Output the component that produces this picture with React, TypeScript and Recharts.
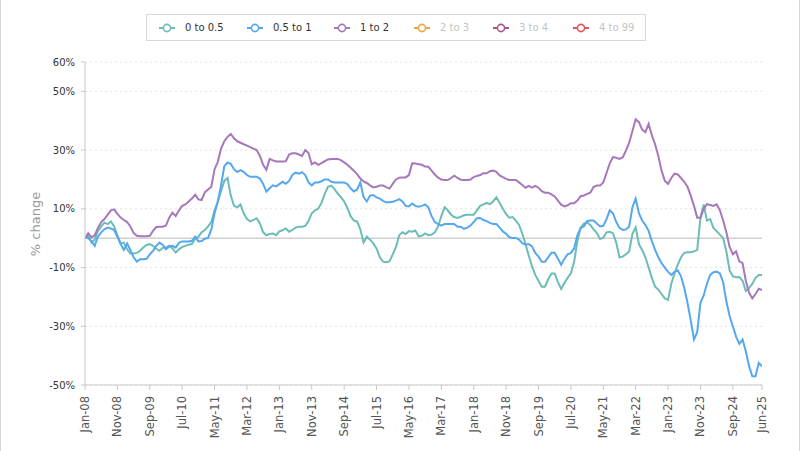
import React from 'react';
import { LineChart, Line, XAxis, YAxis, CartesianGrid, ReferenceLine } from 'recharts';

const seriesA: number[] = [
  0, 0.8, -1.5, -0.5, 2.5, 4, 5.3, 4.8, 5.7, 4, 1, -1.8, -1.5, -3.8, -5.2, -5.2, -5, -4.3, -3.2, -2.3, -2, -2.6, -3.6, -4.3, -3.3, -3.2, -2.6, -3.5, -4.9, -3.8, -3, -2.6, -2.2, -2, -0.2, 0.5,
  2, 2.8, 4, 5.5, 9.5, 12.5, 16, 19.5, 20.5, 14.5, 11, 10.5, 11.5, 8.5, 6.5, 5.7, 6.2, 6.8, 5, 2, 1, 1.4, 1.6, 1, 2.3, 2.7, 3.3, 2.2, 2.8, 3.6, 3.9, 3.9, 4.2, 5.8, 8.5,
  9.5, 10, 12, 15, 17.5, 17.9, 16.8, 15.2, 14, 12.5, 10.3, 7.5, 6, 5.7, 3, -1.5, 0.5, -0.5, -1.8, -3.5, -6.5, -8, -8.2, -7.9, -5.5, -3, 1, 2, 1.4, 2.4, 2.2, 2.6, 0.6, 0.8, 1.6,
  1, 1.2, 2, 4, 7.5, 10.5, 9.5, 8, 7.2, 6.9, 7.3, 7.8, 8, 8, 8, 9.5, 11, 11.5, 12, 11.6, 12.5, 13.9, 12, 10, 8.2, 7, 7.2, 6, 4.5, 1.5, -2, -6, -9.5, -12.5, -14.5,
  -16.5, -16.5, -14, -12, -12, -15, -17.3, -15.3, -13.5, -12, -8, -1, 3.5, 5, 5.4, 4.5, 3, 1.8, -0.3, 0.2, 2, 2.2, 1.6, -1.5, -6.5, -6.3, -5.5, -4.5, 1.5, 3.7, -2, -4, -6.5, -10, -13.5,
  -16.5, -17.5, -19, -20.5, -21, -15.5, -12, -9, -6.5, -5, -4.8, -4.8, -4.5, -4, 7, 11.5, 6, 6.5, 3.5, 2.4, 1.2, 0, -4.5, -11, -13, -13.3, -13.2, -14.5, -18, -17, -15.6, -13.5, -12.5, -12.5,
];

const seriesB: number[] = [
  0.2, 0, -1, -2.6, 0.5, 2, 3, 3.6, 3.3, 2.8, 0.5, -2, -4, -1.8, -4, -6.5, -8, -7.2, -7.2, -7, -5.5, -4.3, -2.6, -1.5, -2.2, -3.8, -2.8, -2.6, -3.2, -1.6, -1.1, -1.1, -1.1, -0.9, 0.5, -1.1,
  -1, -0.2, 0.1, 3, 8.5, 12.5, 18, 24.5, 25.8, 25.3, 23.5, 22.5, 23.2, 22.6, 21.5, 20.9, 20.9, 20.9, 20.3, 18.5, 15.8, 17, 18, 17.6, 18.4, 19.2, 18.5, 19.5, 21.5, 22.3, 22, 22.5, 21.5, 19, 18,
  19, 19, 19.4, 20, 20, 19.2, 19, 19, 19, 19, 18.4, 17, 15.9, 16.5, 19, 14, 12.5, 14.5, 14.7, 13.9, 13.5, 12.7, 12.2, 12.2, 12.4, 12.8, 13.3, 12.5, 11, 10.8, 11.8, 11, 10.7, 11, 11.5,
  10.5, 7.5, 5.5, 4.8, 4.3, 4.8, 4.8, 4.8, 4.8, 3.9, 3.9, 3.2, 3.6, 4.3, 5.5, 6.8, 6.9, 6.2, 5.8, 5.2, 4.8, 4.8, 3.6, 2.3, 1.5, 0.3, 0.1, 0.1, -0.5, -1.7, -2.2, -2, -2.8, -5, -6.3,
  -8, -8, -6.5, -5, -5, -7, -9, -7, -5.5, -5, -3.5, 1, 3.5, 4, 5.8, 6, 6, 5, 4, 4.2, 6.5, 9.5, 8.5, 5.5, 3.5, 2.8, 3, 4, 10.5, 13.5, 8.5, 6, 4.5, 2.5, -1,
  -4, -6.5, -8.5, -10, -11.5, -12.5, -11.5, -11, -13, -17, -22, -28, -34.5, -32, -22, -19.5, -15.5, -12.5, -11.6, -11.4, -12, -15, -21.5, -26.5, -30, -33.5, -36, -34.5, -38.5, -43.5, -47, -47, -42.5, -43.6,
];

const seriesC: number[] = [
  0, 1.7, 0.3, 1, 3.5, 5.5, 6.5, 8, 9.5, 9.8, 8.3, 7, 6.2, 5.5, 4, 1.8, 0.8, 0.7, 0.7, 0.7, 0.8, 2.5, 3.8, 3.9, 3.9, 4.3, 7, 8.7, 7.5, 9.5, 11, 11.5, 12.5, 13.5, 14.8, 13.2,
  13, 15.6, 16.6, 17.5, 23.5, 26, 30.5, 33, 34.5, 35.5, 34, 33, 32.5, 32, 31.5, 31, 30.5, 30, 28, 25, 23.3, 27, 26.5, 26.1, 26.1, 26.1, 26.2, 28.5, 28.9, 28.9, 28.5, 28, 30, 29, 25.2,
  25.8, 25, 25.6, 26.2, 26.8, 27, 27, 27, 26.6, 25.8, 25, 24, 23, 21.8, 20.3, 19.3, 18.8, 18, 17.3, 17.5, 17.9, 17.9, 17.4, 16.9, 18.5, 20, 20.6, 20.7, 20.7, 21.5, 25.5, 25.4, 25.2, 25, 24.4,
  24.3, 23, 21.7, 20.6, 20, 19.8, 19.8, 20.5, 21.3, 20.5, 19.9, 19.8, 19.8, 20, 20.8, 21.2, 21.5, 22.1, 22.1, 22.8, 23, 22.6, 21.4, 20.8, 20.2, 19.8, 19.8, 19.8, 19, 18.1, 17.2, 17.8, 17.2, 17.8, 17.2,
  16, 15.5, 15.5, 14.9, 14.2, 12.8, 11.4, 10.8, 11.2, 11.9, 11.9, 12.8, 14.3, 14.5, 15.1, 15.5, 17.4, 17.9, 17.9, 19, 22.2, 25.5, 27.6, 27.4, 27, 27.5, 29.8, 32.5, 36.5, 40.5, 39.5, 37, 36.1, 38.9, 35,
  32, 28, 23, 19.5, 18.5, 20.5, 22, 21.7, 20.5, 19.2, 17.5, 14.5, 11, 7, 7, 10, 11.6, 11.3, 11, 11.5, 9.5, 6, 2, -3, -5.5, -4.5, -7.9, -8.5, -14.5, -18.5, -20.5, -19, -17.2, -17.7,
];

const tickIdx: number[] = [0, 10, 20, 30, 40, 50, 60, 70, 80, 90, 100, 110, 120, 130, 140, 150, 160, 170, 180, 190, 200, 209];
const tickLabels: string[] = [
  'Jan-08', 'Nov-08', 'Sep-09', 'Jul-10', 'May-11', 'Mar-12', 'Jan-13', 'Nov-13', 'Sep-14', 'Jul-15', 'May-16',
  'Mar-17', 'Jan-18', 'Nov-18', 'Sep-19', 'Jul-20', 'May-21', 'Mar-22', 'Jan-23', 'Nov-23', 'Sep-24', 'Jun-25',
];
const yTicks: number[] = [-50, -30, -10, 10, 30, 50, 60];

const legendNames: string[] = ['0 to 0.5', '0.5 to 1', '1 to 2', '2 to 3', '3 to 4', '4 to 99'];
const legendColors: string[] = ['#6cbcb7', '#55a8ef', '#a677bb', '#e8a741', '#a8578e', '#e2545c'];
const legendActive: boolean[] = [true, true, true, false, false, false];

const rows = seriesA.map((v, i) => ({ idx: i, a: v, b: seriesB[i], c: seriesC[i] }));

const FONT = '"DejaVu Sans", Verdana, sans-serif';

const XTick = (props: any) => {
  const { x, y, payload } = props;
  const k = tickIdx.indexOf(payload.value);
  const label = k >= 0 ? tickLabels[k] : '';
  return (
    <text
      transform={`translate(${x},${y + 4}) rotate(-90)`}
      textAnchor="end"
      dy="0.35em"
      fontSize={11.5}
      fontFamily={FONT}
      fill="#555"
    >
      {label}
    </text>
  );
};

const LegendBox = () => (
  <div
    style={{
      position: 'absolute',
      left: 145,
      top: 14,
      width: 500,
      height: 27,
      boxSizing: 'border-box',
      border: '1px solid #d8d8d8',
      background: '#fff',
      fontFamily: FONT,
      fontSize: 10,
    }}
  >
    {legendNames.map((name, i) => {
      const lefts = [12, 100, 187, 267, 346, 426];
      return (
        <div
          key={name}
          style={{ position: 'absolute', left: lefts[i], top: 0, height: 25, display: 'flex', alignItems: 'center' }}
        >
          <svg width={16} height={10} style={{ marginRight: 10 }}>
            <line x1={0} y1={5} x2={16} y2={5} stroke={legendColors[i]} strokeWidth={2} />
            <circle cx={8} cy={5} r={3.6} fill="#fff" stroke={legendColors[i]} strokeWidth={1.6} />
          </svg>
          <span style={{ color: legendActive[i] ? '#333' : '#c4c4c4', whiteSpace: 'nowrap' }}>{name}</span>
        </div>
      );
    })}
  </div>
);

export default function App() {
  return (
    <div
      style={{
        position: 'absolute',
        left: 0,
        top: 0,
        width: 800,
        height: 451,
        background: '#fff',
        boxSizing: 'border-box',
        borderLeft: '1px solid #d6d6d6',
        borderRight: '1px solid #d6d6d6',
      }}
    >
      <div style={{ position: 'absolute', left: -1, top: 0 }}>
        <LineChart width={800} height={451} data={rows} margin={{ top: 62, right: 38, left: 0, bottom: 0 }}>
          <CartesianGrid vertical={false} stroke="#e2e2e2" strokeDasharray="2 3" />
          <XAxis
            dataKey="idx"
            type="number"
            domain={[0, 209]}
            ticks={tickIdx}
            interval={0}
            height={66}
            tick={<XTick />}
            tickSize={5}
            stroke="#c8c8c8"
            allowDataOverflow
          />
          <YAxis
            type="number"
            domain={[-50, 60]}
            ticks={yTicks}
            interval={0}
            width={85}
            tickSize={4}
            tickMargin={6}
            stroke="#c8c8c8"
            tick={{ fontSize: 10, fontFamily: FONT, fill: '#333' }}
            tickFormatter={(v: number) => `${v}%`}
            allowDataOverflow
            label={{
              content: () => (
                <text
                  x={40}
                  y={224}
                  transform="rotate(-90 40 224)"
                  textAnchor="middle"
                  fontSize={13}
                  fontFamily={FONT}
                  fill="#9a9a9a"
                >
                  % change
                </text>
              ),
            }}
          />
          <ReferenceLine y={0} stroke="#d0d0d0" strokeWidth={1.5} />
          <Line type="linear" dataKey="a" stroke={legendColors[0]} strokeWidth={2} dot={false} isAnimationActive={false} />
          <Line type="linear" dataKey="b" stroke={legendColors[1]} strokeWidth={2} dot={false} isAnimationActive={false} />
          <Line type="linear" dataKey="c" stroke={legendColors[2]} strokeWidth={2} dot={false} isAnimationActive={false} />
        </LineChart>
      </div>
      <LegendBox />
    </div>
  );
}
